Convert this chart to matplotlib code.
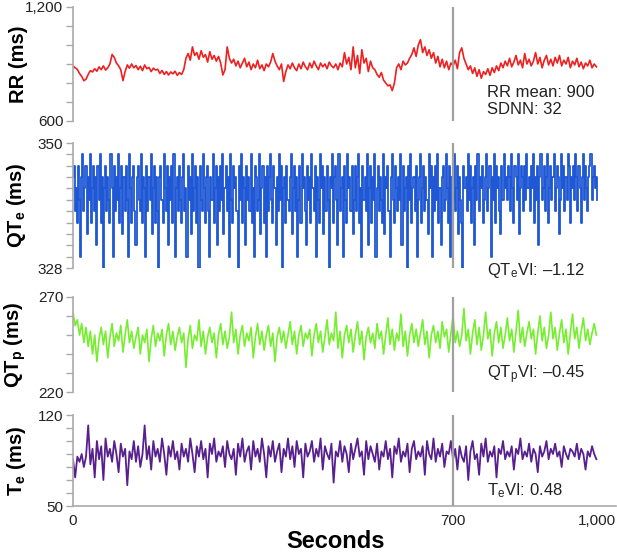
import numpy as np
import matplotlib
matplotlib.use('Agg')
import matplotlib.pyplot as plt
from matplotlib.ticker import MultipleLocator, FixedLocator, FixedFormatter

plt.rcParams['font.family'] = ['Liberation Sans', 'DejaVu Sans']
plt.rcParams['mathtext.fontset'] = 'custom'
plt.rcParams['mathtext.rm'] = 'Liberation Sans'
plt.rcParams['mathtext.bf'] = 'Liberation Sans:bold'
plt.rcParams['mathtext.it'] = 'Liberation Sans:italic'

# sample spacing (s) of the series below
dt = 4
dt_qte = 2

rr = [890, 880, 872, 850, 835, 812, 820, 845, 865, 858,
      875, 862, 885, 870, 890, 868, 880, 900, 950, 935,
      905, 890, 870, 812, 860, 895, 878, 900, 880, 892,
      870, 888, 865, 895, 875, 882, 860, 878, 868, 872,
      850, 866, 845, 860, 842, 858, 848, 862, 840, 855,
      845, 870, 930, 955, 920, 990, 945, 960, 925, 970,
      935, 950, 910, 965, 925, 945, 915, 940, 905, 842,
      870, 990, 930, 905, 925, 890, 915, 880, 905, 930,
      885, 910, 870, 900, 880, 920, 875, 895, 865, 900,
      885, 910, 955, 915, 890, 870, 900, 808, 860, 895,
      875, 905, 880, 865, 900, 875, 910, 885, 870, 905,
      880, 915, 890, 870, 905, 885, 900, 875, 910, 890,
      880, 900, 870, 905, 885, 960, 900, 935, 870, 990,
      880, 945, 850, 975, 905, 930, 860, 915, 880, 870,
      845, 830, 855, 815, 800, 785, 790, 760, 800, 880,
      900, 870, 915, 895, 905, 930, 950, 985, 940, 1000,
      1028, 960, 990, 945, 975, 930, 960, 905, 940, 885,
      925, 880, 915, 870, 905, 890, 920, 875, 960, 985,
      930, 900, 870, 890, 850, 880, 835, 870, 825, 860,
      845, 875, 840, 880, 855, 890, 865, 905, 880, 915,
      890, 930, 885, 910, 945, 895, 920, 880, 955, 900,
      925, 890, 915, 960, 900, 935, 880, 920, 945, 895,
      925, 890, 935, 905, 945, 890, 920, 900, 935, 880,
      915, 895, 930, 885, 910, 875, 905, 890, 920, 880,
      900, 885]

qte = [344, 346, 338, 342, 336, 346, 340, 330, 344, 348, 338, 342, 346, 334, 344, 340, 348, 336, 342, 346,
       338, 344, 332, 346, 340, 348, 336, 344, 328, 342, 346, 338, 344, 340, 336, 348, 342, 330, 346, 338,
       344, 340, 348, 336, 342, 346, 334, 344, 338, 346, 340, 330, 348, 342, 336, 344, 346, 338, 332, 344,
       346, 340, 338, 348, 336, 344, 342, 330, 346, 338, 344, 340, 348, 334, 342, 346, 336, 344, 338, 328,
       344, 346, 340, 336, 348, 342, 338, 346, 332, 344, 340, 346, 336, 348, 330, 342, 344, 338, 346, 340,
       336, 344, 348, 338, 342, 330, 346, 340, 344, 334, 348, 338, 342, 346, 336, 344, 328, 346, 340, 338,
       348, 342, 336, 344, 346, 338, 330, 344, 340, 348, 336, 342, 346, 332, 344, 338, 346, 340, 348, 334,
       342, 346, 338, 344, 330, 348, 340, 336, 346, 342, 344, 338, 328, 346, 340, 348, 336, 344, 342, 332,
       346, 340, 344, 338, 348, 336, 342, 330, 346, 344, 338, 340, 348, 334, 342, 346, 336, 344, 330, 346,
       338, 344, 348, 340, 336, 346, 342, 332, 344, 338, 348, 340, 346, 328, 342, 344, 336, 346, 340, 338,
       344, 348, 334, 342, 346, 338, 344, 330, 340, 346, 336, 348, 342, 344, 338, 332, 346, 340, 344, 336,
       348, 342, 338, 346, 330, 344, 340, 336, 348, 342, 346, 334, 344, 338, 346, 340, 328, 344, 342, 348,
       336, 344, 346, 340, 332, 348, 338, 342, 344, 330, 346, 340, 336, 348, 342, 344, 338, 346, 334, 340,
       346, 338, 344, 348, 336, 342, 330, 346, 340, 344, 338, 348, 332, 342, 346, 336, 344, 340, 348, 330,
       342, 346, 338, 344, 340, 336, 348, 334, 344, 342, 346, 338, 330, 344, 348, 340, 336, 346, 342, 338,
       344, 340, 348, 332, 346, 338, 342, 344, 328, 346, 340, 348, 336, 342, 344, 338, 346, 330, 340, 344,
       348, 336, 342, 346, 338, 344, 340, 334, 348, 342, 346, 330, 344, 338, 346, 340, 348, 336, 342, 332,
       344, 346, 338, 340, 348, 342, 336, 346, 330, 344, 340, 348, 338, 342, 346, 334, 344, 340, 336, 328,
       346, 342, 344, 338, 348, 340, 346, 336, 342, 344, 332, 346, 340, 348, 338, 344, 342, 346, 336, 340,
       344, 348, 338, 342, 346, 330, 344, 340, 348, 336, 346, 342, 344, 338, 334, 346, 340, 348, 342, 344,
       340, 346, 344, 338, 348, 342, 336, 346, 344, 340, 348, 334, 342, 346, 344, 338, 346, 340, 348, 342,
       344, 338, 346, 342, 348, 336, 344, 340, 346, 332, 344, 348, 340, 342, 346, 338, 344, 348, 336, 342,
       346, 340, 344, 348, 338, 342, 346, 344, 334, 340, 348, 342, 346, 338, 344, 340, 348, 346, 336, 344,
       342, 346, 340, 348, 344, 338, 346, 342, 336, 344, 348, 340, 346, 342, 338, 344, 346, 348, 340, 344,
       346, 342, 344, 340]

qtp = [262, 255, 258, 250, 256, 246, 254, 244, 252, 240,
       250, 236, 248, 254, 245, 252, 238, 249, 256, 244,
       251, 247, 255, 241, 250, 258, 246, 252, 243, 249,
       254, 240, 250, 246, 253, 236, 248, 255, 244, 251,
       247, 253, 239, 250, 256, 245, 252, 242, 249, 254,
       246, 251, 233, 248, 255, 243, 250, 247, 258, 244,
       252, 240, 249, 254, 246, 251, 238, 250, 256, 245,
       252, 243, 249, 262, 246, 253, 240, 250, 255, 244,
       251, 247, 254, 238, 249, 256, 245, 252, 242, 250,
       255, 244, 251, 236, 249, 254, 246, 252, 243, 250,
       257, 245, 252, 240, 250, 255, 244, 251, 248, 253,
       239, 250, 256, 246, 252, 241, 249, 258, 245, 251,
       247, 262, 243, 252, 238, 250, 255, 246, 253, 241,
       250, 257, 245, 252, 237, 249, 254, 246, 251, 243,
       256, 248, 252, 240, 250, 259, 245, 253, 242, 251,
       247, 261, 244, 252, 239, 250, 256, 246, 253, 244,
       251, 258, 245, 252, 238, 250, 255, 246, 252, 243,
       257, 249, 253, 241, 251, 260, 246, 252, 244, 250,
       264, 247, 253, 240, 251, 258, 245, 254, 242, 250,
       262, 248, 253, 239, 251, 257, 246, 254, 243, 250,
       259, 247, 253, 241, 252, 263, 246, 254, 244, 251,
       257, 248, 253, 240, 251, 260, 247, 254, 243, 250,
       262, 248, 254, 242, 251, 258, 246, 253, 240, 251,
       261, 248, 254, 243, 252, 259, 247, 253, 245, 251,
       256, 250]

te = [86, 72, 88, 84, 90, 80, 88, 112, 82, 94,
      72, 100, 86, 96, 70, 102, 88, 94, 84, 100,
      90, 76, 98, 88, 94, 66, 92, 86, 100, 84,
      96, 80, 90, 112, 86, 96, 78, 100, 88, 94,
      84, 102, 90, 74, 96, 88, 100, 86, 92, 78,
      98, 88, 94, 84, 102, 90, 76, 96, 88, 100,
      86, 94, 72, 98, 90, 102, 84, 92, 88, 96,
      80, 100, 90, 86, 94, 74, 98, 88, 102, 84,
      92, 96, 78, 100, 88, 94, 84, 102, 90, 72,
      96, 88, 100, 84, 92, 98, 76, 94, 88, 102,
      86, 96, 80, 100, 90, 94, 72, 98, 88, 92,
      100, 84, 94, 88, 102, 78, 96, 90, 86, 98,
      68, 92, 88, 100, 84, 96, 90, 76, 98, 86,
      94, 102, 88, 92, 74, 100, 86, 96, 90, 84,
      98, 78, 92, 88, 100, 86, 94, 72, 96, 90,
      102, 84, 92, 88, 98, 76, 94, 100, 86, 92,
      88, 96, 74, 100, 90, 86, 102, 84, 94, 88,
      98, 80, 92, 90, 100, 86, 94, 78, 96, 88,
      84, 96, 70, 92, 100, 86, 90, 74, 98, 88,
      102, 84, 92, 88, 96, 72, 94, 90, 100, 86,
      92, 88, 96, 78, 94, 90, 102, 86, 92, 88,
      98, 84, 94, 90, 76, 96, 88, 92, 100, 86,
      94, 90, 98, 88, 92, 80, 96, 90, 86, 94,
      92, 88, 98, 86, 94, 90, 78, 92, 88, 96,
      90, 86]

t = np.arange(len(rr)) * dt
t_qte = np.arange(len(qte)) * dt_qte

xticks = [0, 700, 1000]
xticklabels = ['0', '700', '1,000']
mark = 700

panels = [
    dict(x=t, y=rr, color='#ee2020', lim=(600, 1200), minor=100, labels=['600', '1,200'],
         ylabel='RR (ms)', box=[0.1183, 0.7816, 0.880, 0.2058], steps=False, lw=1.2,
         note='RR mean: 900\nSDNN: 32', note_y=0.175),
    dict(x=t_qte, y=qte, color='#1f57d4', lim=(328, 350), minor=2, labels=['328', '350'],
         ylabel=r'QT$_\mathbf{e}$ (ms)', box=[0.1183, 0.5162, 0.880, 0.2256], steps=True, lw=1.3,
         note=r'QT$_\mathrm{e}$VI: –1.12', note_y=-0.02),
    dict(x=t, y=qtp, color='#76ee30', lim=(220, 270), minor=10, labels=['220', '270'],
         ylabel=r'QT$_\mathbf{p}$ (ms)', box=[0.1183, 0.2924, 0.880, 0.1715], steps=False, lw=1.2,
         note=r'QT$_\mathrm{p}$VI: –0.45', note_y=0.18),
    dict(x=t, y=te, color='#58208f', lim=(50, 120), minor=10, labels=['50', '120'],
         ylabel=r'T$_\mathbf{e}$ (ms)', box=[0.1183, 0.0866, 0.880, 0.1643], steps=False, lw=1.3,
         note=r'T$_\mathrm{e}$VI: 0.48', note_y=0.165),
]

fig = plt.figure(figsize=(6.17, 5.54), dpi=100)
axes = []
for i, p in enumerate(panels):
    ax = fig.add_axes(p['box'])
    if p['steps']:
        ax.plot(p['x'], p['y'], color=p['color'], lw=p['lw'], drawstyle='steps-mid')
    else:
        ax.plot(p['x'], p['y'], color=p['color'], lw=p['lw'])
    ax.axvline(mark, color='#a0a0a0', lw=1.6, zorder=3)
    ax.set_xlim(0, 1000)
    ax.set_ylim(*p['lim'])
    ax.yaxis.set_major_locator(FixedLocator(list(p['lim'])))
    ax.yaxis.set_major_formatter(FixedFormatter(p['labels']))
    ax.yaxis.set_minor_locator(MultipleLocator(p['minor']))
    ax.tick_params(axis='y', which='both', length=5, width=1, color='#aaaaaa',
                   labelsize=11, labelcolor='#222222', pad=2)
    for s in ['top', 'right', 'bottom']:
        ax.spines[s].set_visible(False)
    ax.spines['left'].set_color('#aaaaaa')
    ax.spines['left'].set_linewidth(1.2)
    ax.set_ylabel(p['ylabel'], fontsize=14.5, fontweight='bold')
    ax.yaxis.set_label_coords(-0.082, 0.5)
    ax.text(0.762, p['note_y'], p['note'], transform=ax.transAxes, fontsize=12,
            color='#222222', ha='left', va='center', linespacing=1.15, zorder=5,
            bbox=dict(facecolor='white', edgecolor='none', pad=1) if p['steps'] else None)
    if i < 3:
        ax.set_xticks([])
    axes.append(ax)

ax = axes[-1]
ax.spines['bottom'].set_visible(True)
ax.spines['bottom'].set_color('#aaaaaa')
ax.spines['bottom'].set_linewidth(1.2)
ax.set_xticks(xticks)
ax.set_xticklabels(xticklabels)
ax.tick_params(axis='x', length=0, labelsize=11, labelcolor='#222222', pad=6)
ax.get_xticklabels()[-1].set_ha('right')

fig.text(336 / 617, 1 - 542 / 554, 'Seconds', ha='center', va='center',
         fontsize=17, fontweight='bold')

plt.savefig('out.png', dpi=100)
